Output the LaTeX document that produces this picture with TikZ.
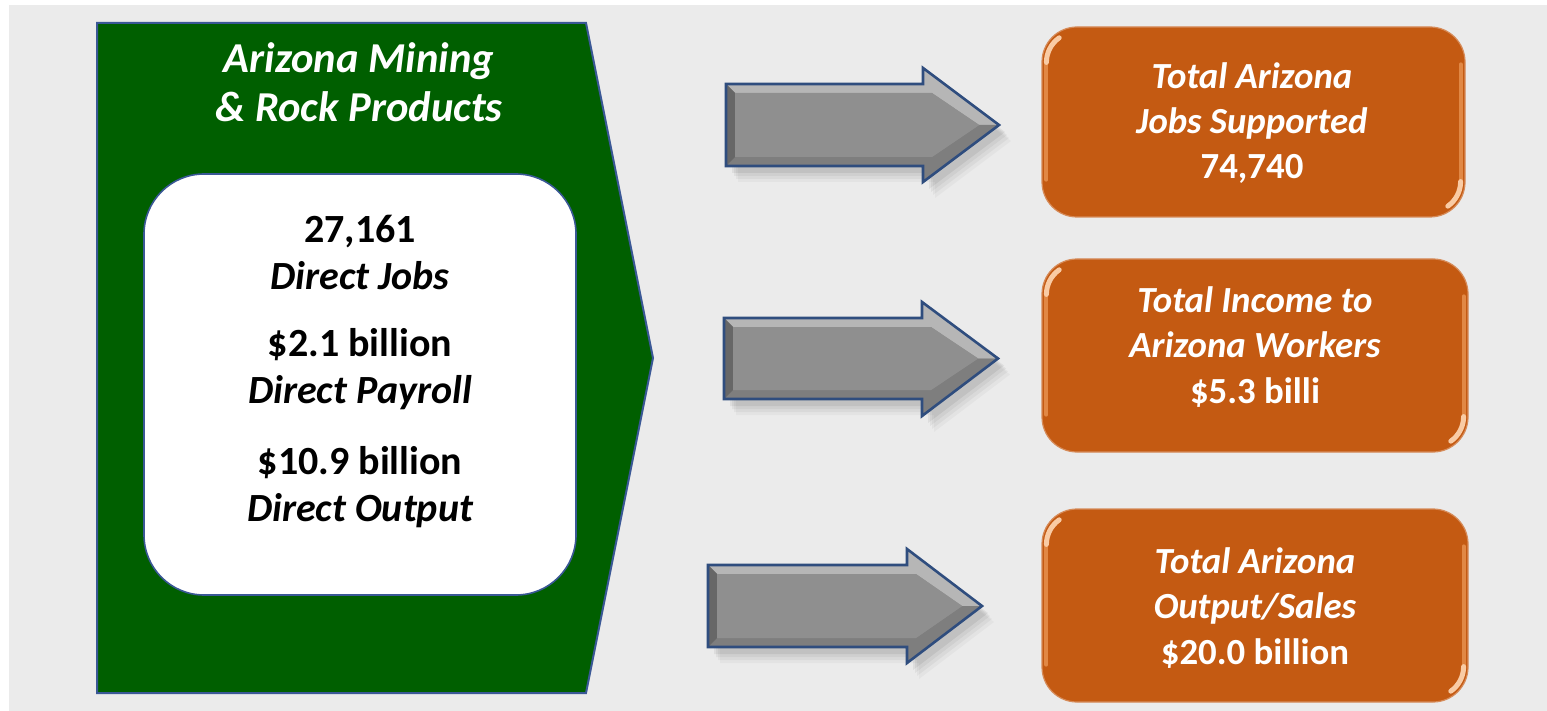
\documentclass[tikz,border=0pt]{standalone}
\usepackage{fontspec}
\setmainfont{Carlito}
\definecolor{bggray}{HTML}{EBEBEB}
\definecolor{dgreen}{HTML}{005F00}
\definecolor{edgeblue}{HTML}{3A5896}
\definecolor{arrblue}{HTML}{2F4D7E}
\definecolor{orng}{HTML}{C45A12}
\definecolor{orhi}{HTML}{F5A868}
\definecolor{agray}{HTML}{8F8F8F}
\definecolor{atop}{HTML}{B6B6B6}
\definecolor{abot}{HTML}{7E7E7E}
\definecolor{aleft}{HTML}{676767}
\newcommand\bevelarrow[7]{%
 % #1 x0, #2 yt, #3 yb, #4 xh, #5 yht, #6 yhb, #7 xtip
 \pgfmathsetmacro\ym{(#2+#3)/2}
 \pgfmathsetmacro\bw{9}
 \coordinate (A) at (#1,#2); \coordinate (B) at (#4,#2); \coordinate (C) at (#4,#5);
 \coordinate (D) at (#7,\ym); \coordinate (E) at (#4,#6); \coordinate (F) at (#4,#3);
 \coordinate (G) at (#1,#3);
 \coordinate (a) at (#1+\bw,#2+\bw); \coordinate (b) at (#4+\bw,#2+\bw);
 \coordinate (d) at (#7-2.2*\bw,\ym); \coordinate (f) at (#4+\bw,#3-\bw);
 \coordinate (g) at (#1+\bw,#3-\bw);
 \foreach \k/\o in {1/0.06,2/0.05,3/0.04,4/0.03}{
   \fill[black,opacity=\o] ([shift={(4+2*\k,4+3*\k)}]A) -- ([shift={(4+2*\k,4+3*\k)}]B) -- ([shift={(4+2*\k,4+3*\k)}]C) -- ([shift={(4+2*\k,4+3*\k)}]D) -- ([shift={(4+2*\k,4+3*\k)}]E) -- ([shift={(4+2*\k,4+3*\k)}]F) -- ([shift={(4+2*\k,4+3*\k)}]G) -- cycle;}
 \fill[agray] (A)--(B)--(C)--(D)--(E)--(F)--(G)--cycle;
 \fill[atop] (A)--(B)--(C)--(D)--(d)--(b)--(a)--cycle;
 \fill[abot] (G)--(F)--(E)--(D)--(d)--(f)--(g)--cycle;
 \fill[aleft] (A)--(a)--(g)--(G)--cycle;
 \fill[agray] (a)--(b)--(d)--(f)--(g)--cycle;
 \draw[arrblue,line width=1.3pt,line join=miter] (A)--(B)--(C)--(D)--(E)--(F)--(G)--cycle;
}
\tikzset{
  obox/.style={fill=orng,draw=orng!70!white,line width=0.6pt,rounded corners=17.5pt,inner sep=0pt},
  otext/.style={text=white,align=center,font=\fontsize{18.4pt}{22.7pt}\selectfont\bfseries},
  wtext/.style={text=black,align=center,font=\fontsize{20pt}{23.5pt}\selectfont\bfseries},
}
\begin{document}
\begin{tikzpicture}[x=0.5pt,y=-0.5pt]
\useasboundingbox (0,0) rectangle (1547,711);
\fill[white] (0,0) rectangle (1547,711);
\fill[bggray] (9,5) rectangle (1547,711);
% green pentagon
\draw[fill=dgreen,draw=edgeblue,line width=1pt] (97,23) -- (586,23) -- (653,358) -- (586,693) -- (97,693) -- cycle;
\node[text=white,align=center,font=\fontsize{21.3pt}{24.5pt}\selectfont\bfseries\itshape] (title) at (359,82.5) {Arizona Mining\\\& Rock Products};
% white box
\draw[fill=white,draw=edgeblue,line width=0.8pt,rounded corners=30pt] (144,174) rectangle (576,595);
\node[wtext] (jobs) at (360,252) {27,161\\\itshape Direct Jobs};
\node[wtext] (pay) at (360,369) {\$2.1 billion\\\itshape Direct Payroll};
\node[wtext] (out) at (360,487.5) {\$10.9 billion\\\itshape Direct Output};
% arrows
\bevelarrow{726}{84}{166}{923}{68}{182}{999}
\bevelarrow{724}{318}{399}{922}{302}{416}{998}
\bevelarrow{708}{565}{647}{907}{549}{663}{982}
% orange boxes
\node[obox,minimum width=211.5pt,minimum height=95pt] (o1) at (1253.5,122) {};
\node[obox,minimum width=213pt,minimum height=96.5pt] (o2) at (1255,355.5) {};
\node[obox,minimum width=213pt,minimum height=96.5pt] (o3) at (1255,605.5) {};
\foreach \n in {o1,o2,o3}{
  \draw[orhi,line width=2pt,opacity=0.6,line cap=round] ([shift={(5,-38)}]\n.south west) -- ([shift={(5,38)}]\n.north west);
  \draw[orhi,line width=2pt,opacity=0.6,line cap=round] ([shift={(-5,-38)}]\n.south east) -- ([shift={(-5,38)}]\n.north east);
  \draw[orhi!60!white,line width=2.5pt,line cap=round] ([shift={(5,36)}]\n.north west) arc[start angle=180,end angle=235,radius=30];
  \draw[orhi!60!white,line width=2.5pt,line cap=round] ([shift={(-5,-36)}]\n.south east) arc[start angle=0,end angle=55,radius=30];
}
\node[otext] (t1) at (1252,123) {\itshape Total Arizona\\\itshape Jobs Supported\\74,740};
\node[otext] (t2) at (1255,347) {\itshape Total Income to\\\itshape Arizona Workers\\\$5.3 billi};
\node[otext] (t3) at (1255,608) {\itshape Total Arizona\\\itshape Output/Sales\\\$20.0 billion};
\end{tikzpicture}
\end{document}
